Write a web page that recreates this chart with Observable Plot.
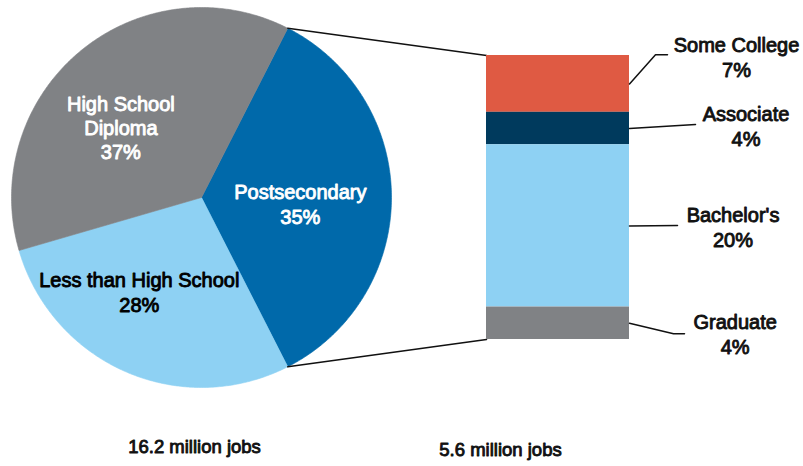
<!DOCTYPE html>
<html><head><meta charset="utf-8">
<script src="https://cdn.jsdelivr.net/npm/d3@7"></script>
<script src="https://cdn.jsdelivr.net/npm/@observablehq/plot@0.6"></script>
<style>body{margin:0;background:#fff} svg{display:block}</style>
</head><body><div id="chart"></div>
<script>
// ---- data ----
const pieCategories = ["Postsecondary", "Less than High School", "High School Diploma"];
const pieShares = [35, 28, 37];
const pieLabels = ["Postsecondary\n35%", "Less than High School\n28%", "High School\nDiploma\n37%"];
const pieColors = ["#0069aa", "#8ed1f3", "#808285"];
const pieTextColors = ["#ffffff", "#000000", "#ffffff"];
const barCategories = ["Some College", "Associate", "Bachelor's", "Graduate"];
const barShares = [7, 4, 20, 4];
const barColors = ["#df5a43", "#003a5d", "#8ed1f3", "#808285"];
const totals = ["16.2 million jobs", "5.6 million jobs"];

// ---- layout ----
const W = 803, H = 466;
const cx = 201, cy = 197, R = 190;
const barX0 = 486, barX1 = 629, barH = 284;
const pieLabelPolar = [[93.5, 99], [213.4, 113], [311.1, 107]]; // [angle deg, radius px]
const barLabelPos = [[736, 56], [745.5, 125], [732.5, 226], [734.7, 333]];
const leaderPts = [[[655, 54.3], [667, 54.3]], [[695, 124]], [[677, 225]], [[673, 333.3], [684, 333.3]]];
const totalPos = [[194, 447], [500, 450]];
const FONT = "Liberation Sans, Arial, sans-serif";

// ---- derived geometry ----
const postShare = pieShares[0];
const startDeg = 90 - postShare * 3.6 / 2;
const pt = (deg, r) => [cx + r * Math.sin(deg * Math.PI / 180), cy - r * Math.cos(deg * Math.PI / 180)];

const slicePts = [];
let a = startDeg;
pieShares.forEach((s, i) => {
  const a0 = a, a1 = a + s * 3.6;
  slicePts.push({k: pieCategories[i], x: cx, y: cy, c: pieColors[i]});
  const n = Math.ceil((a1 - a0) / 0.5);
  for (let j = 0; j <= n; j++) {
    const [x, y] = pt(a0 + (a1 - a0) * j / n, R);
    slicePts.push({k: pieCategories[i], x, y, c: pieColors[i]});
  }
  slicePts.push({k: pieCategories[i], x: cx, y: cy, c: pieColors[i]});
  a = a1;
});

const pieText = pieLabels.map((t, i) => {
  const [x, y] = pt(pieLabelPolar[i][0], pieLabelPolar[i][1]);
  return {t, x, y, c: pieTextColors[i]};
});

const barTotal = d3.sum(barShares);
const pxPerPct = barH / barTotal;
const barTop = cy - barH / 2;
let acc = 0;
const barRects = barShares.map((s, i) => {
  const y1 = barTop + acc * pxPerPct; acc += s;
  const y2 = barTop + acc * pxPerPct;
  return {k: barCategories[i], y1, y2, c: barColors[i], mid: (y1 + y2) / 2};
});

const barText = barCategories.map((k, i) => ({t: `${k}\n${barShares[i]}%`, x: barLabelPos[i][0], y: barLabelPos[i][1]}));

const leaders = [];
barRects.forEach((r, i) => {
  leaders.push({k: r.k, x: barX1, y: r.mid});
  leaderPts[i].forEach(([x, y]) => leaders.push({k: r.k, x, y}));
});

const [tx, ty] = pt(startDeg, R);
const [bx, by] = pt(startDeg + postShare * 3.6, R);
const connectors = [
  {k: "top", x: tx, y: ty}, {k: "top", x: barX0, y: barRects[0].y1},
  {k: "bot", x: bx, y: by}, {k: "bot", x: barX0, y: barRects[barRects.length - 1].y2}
];

const totalText = totals.map((t, i) => ({t, x: totalPos[i][0], y: totalPos[i][1]}));

const chart = Plot.plot({
  width: W, height: H,
  margin: 0,
  x: {domain: [0, W], range: [0, W], axis: null},
  y: {domain: [0, H], range: [0, H], axis: null},
  style: {fontFamily: FONT, background: "#fff"},
  marks: [
    Plot.line(slicePts, {x: "x", y: "y", z: "k", fill: "c", stroke: "c", strokeWidth: 0.6, curve: "linear"}),
    Plot.line(connectors, {x: "x", y: "y", z: "k", stroke: "#111", strokeWidth: 1.5}),
    Plot.rect(barRects, {x1: barX0, x2: barX1, y1: "y1", y2: "y2", fill: "c"}),
    Plot.line(leaders, {x: "x", y: "y", z: "k", stroke: "#111", strokeWidth: 1.5}),
    Plot.text(pieText, {x: "x", y: "y", text: "t", fill: "c", stroke: "c", strokeWidth: 0.9, paintOrder: "stroke", fontSize: 20, lineHeight: 1.22, lineAnchor: "middle", textAnchor: "middle"}),
    Plot.text(barText, {x: "x", y: "y", text: "t", fill: "#111", stroke: "#111", strokeWidth: 0.9, paintOrder: "stroke", fontSize: 20, lineHeight: 1.22, lineAnchor: "middle", textAnchor: "middle"}),
    Plot.text(totalText, {x: "x", y: "y", text: "t", fill: "#111", stroke: "#111", strokeWidth: 0.9, paintOrder: "stroke", fontSize: 18.5, textAnchor: "middle"})
  ]
});
document.getElementById("chart").appendChild(chart);
</script>
</body></html>
